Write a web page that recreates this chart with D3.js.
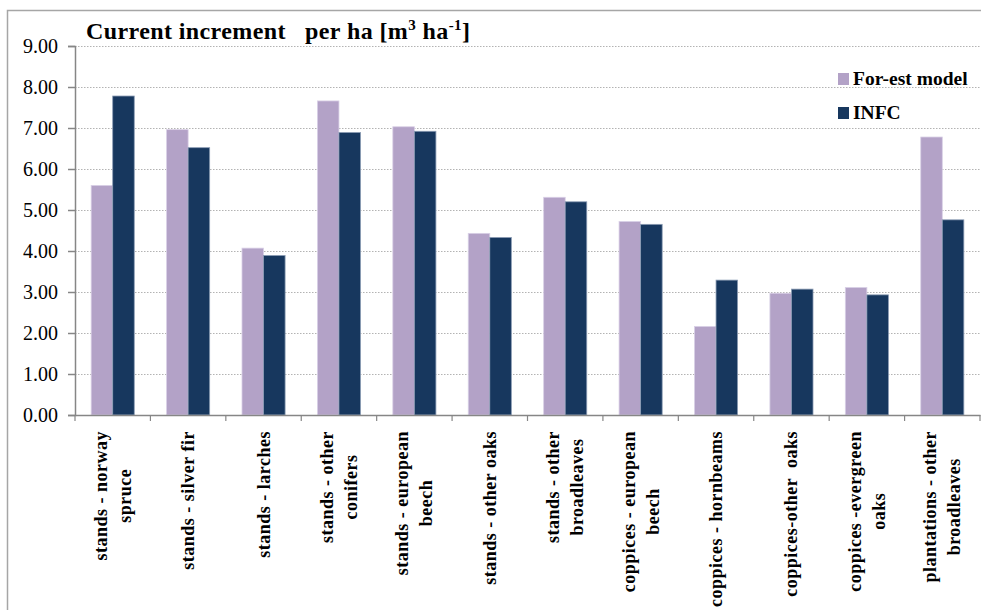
<!DOCTYPE html>
<html><head><meta charset="utf-8">
<script src="https://cdn.jsdelivr.net/npm/d3@7"></script>
<style>body{margin:0;background:#fff}svg{display:block}
svg text{font-family:"Liberation Serif","DejaVu Serif","Times New Roman",serif;white-space:pre}</style>
</head><body>
<svg id="c" width="981" height="610"></svg>
<script>
const categories = [
  ["stands - norway","spruce"],
  ["stands - silver fir"],
  ["stands - larches"],
  ["stands - other","conifers"],
  ["stands - european","beech"],
  ["stands - other oaks"],
  ["stands - other","broadleaves"],
  ["coppices - european","beech"],
  ["coppices - hornbeams"],
  ["coppices-other  oaks"],
  ["coppices -evergreen","oaks"],
  ["plantations - other","broadleaves"]
];
const seriesNames = ["For-est model","INFC"];
const forestModel = [5.60,6.96,4.07,7.66,7.03,4.43,5.31,4.72,2.16,2.97,3.11,6.78];
const infc = [7.78,6.52,3.89,6.89,6.92,4.33,5.20,4.65,3.29,3.07,2.93,4.76];
const yTicks = [0,1,2,3,4,5,6,7,8,9];
const colors = ["#B3A2C7","#17375E"];

const svg = d3.select("#c");
const L=75, R=980, T=46, B=415;
const font = '"Liberation Serif","DejaVu Serif","Times New Roman",serif';

svg.append("rect").attr("x",7.5).attr("y",10.5).attr("width",990).attr("height",620)
  .attr("fill","#fff").attr("stroke","#a6a6a6").attr("stroke-width",1.5);

const x = d3.scaleBand().domain(d3.range(categories.length)).range([L,R]).padding(0);
const y = d3.scaleLinear().domain([0,9]).range([B,T]);
const groupW = x.bandwidth()/1.75;
const xs = d3.scaleBand().domain([0,1]).range([0,groupW]);

// gridlines
svg.append("g").selectAll("line").data(yTicks.filter(d=>d>0)).join("line")
  .attr("x1",L).attr("x2",R).attr("y1",d=>Math.round(y(d))+0.5).attr("y2",d=>Math.round(y(d))+0.5)
  .attr("stroke","#b3b3b3").attr("stroke-width",1).attr("stroke-dasharray","1.5,1.5");

// bars
const data = [forestModel, infc];
const g = svg.append("g");
data.forEach((vals,si)=>{
  g.selectAll(null).data(vals).join("rect")
    .attr("x",(d,i)=>x(i)+(x.bandwidth()-groupW)/2+xs(si))
    .attr("y",d=>y(d))
    .attr("width",xs.bandwidth())
    .attr("height",d=>B-y(d))
    .attr("fill",colors[si])
    .attr("stroke", si===0 ? "#d9d0e6" : "#8a9bb3").attr("stroke-width",0.8);
});

// y axis
const yAxis = d3.axisLeft(y).tickValues(yTicks).tickFormat(d3.format(".2f")).tickSize(7).tickPadding(10);
const ya = svg.append("g").attr("transform",`translate(${L},0)`).call(yAxis).attr("font-family",null);
ya.select(".domain").attr("stroke","#868686").attr("stroke-width",1.5);
ya.selectAll(".tick line").attr("stroke","#868686").attr("stroke-width",1.5);
ya.selectAll(".tick text").style("font-family",font).style("font-size","20px").attr("fill","#000");

// x axis
const xAxis = d3.axisBottom(x).tickValues([]).tickSizeOuter(0);
const xa = svg.append("g").attr("transform",`translate(0,${B})`).call(xAxis);
xa.select(".domain").attr("stroke","#868686").attr("stroke-width",1.5);
xa.selectAll(null).data(d3.range(categories.length+1)).join("line")
  .attr("x1",i=>i<categories.length?x(i):R).attr("x2",i=>i<categories.length?x(i):R)
  .attr("y1",0).attr("y2",6).attr("stroke","#868686").attr("stroke-width",1.2);

// x labels
const top0 = 431, lh = 24;
categories.forEach((lines,i)=>{
  const cx = x(i)+x.bandwidth()/2;
  const lg = svg.append("g");
  const texts = lines.map((t,j)=> lg.append("text").text(t)
     .style("font-family",font).style("font-size","18px").style("font-weight","bold")
     .style("letter-spacing","0.5px")
     .attr("text-anchor","middle").attr("fill","#000"));
  const Lmax = d3.max(texts, t=>t.node().getComputedTextLength());
  const n = lines.length;
  texts.forEach((t,j)=>{
    const px = cx + (j-(n-1)/2)*lh + 6;
    const py = top0 + Lmax/2;
    t.attr("transform",`translate(${px},${py}) rotate(-90)`);
  });
});

// title
const title = svg.append("text").attr("x",86).attr("y",39)
  .style("font-family",font).style("font-size","24px").style("font-weight","bold")
  .style("letter-spacing","0.4px").attr("fill","#000");
title.append("tspan").text("Current increment   per ha [m");
title.append("tspan").text("3").style("font-size","15px").attr("dy",-9);
title.append("tspan").text(" ha").attr("dy",9);
title.append("tspan").text("-1").style("font-size","15px").attr("dy",-9);
title.append("tspan").text("]").attr("dy",9);

// legend
const leg = svg.append("g");
seriesNames.forEach((s,i)=>{
  const yy = 73 + i*34;
  leg.append("rect").attr("x",838).attr("y",yy).attr("width",11).attr("height",12).attr("fill",colors[i]);
  leg.append("text").attr("x",853).attr("y",yy+12).text(s)
    .style("font-family",font).style("font-size","19.5px").style("font-weight","bold").attr("fill","#000");
});
</script>
</body></html>
